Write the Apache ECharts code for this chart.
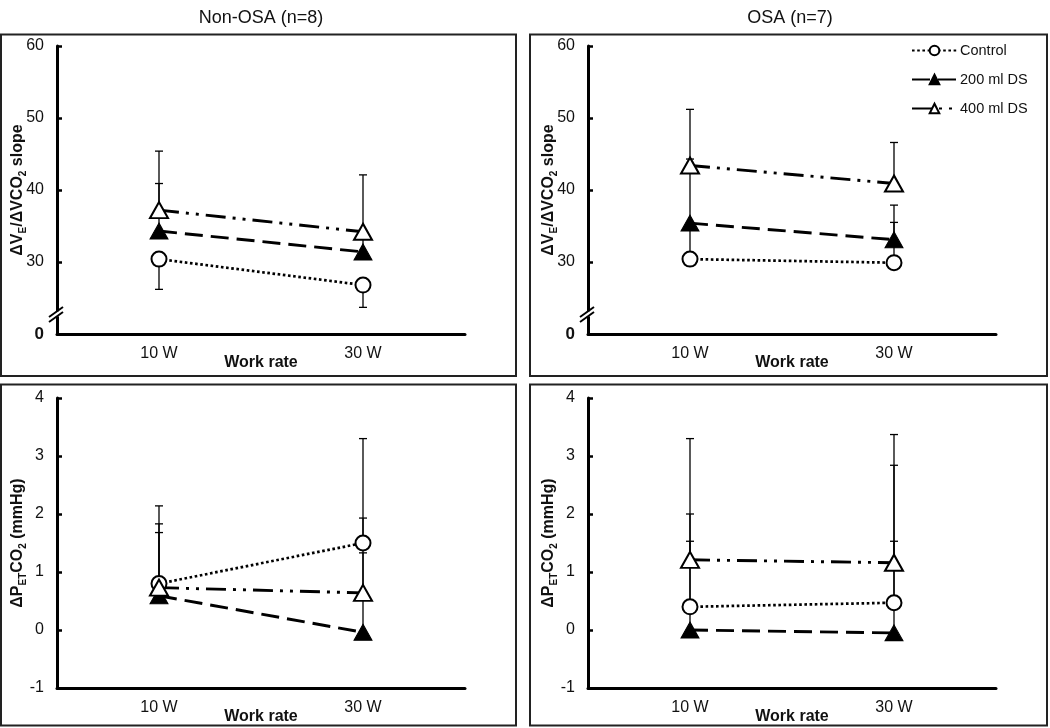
<!DOCTYPE html>
<html>
<head>
<meta charset="utf-8">
<script src="https://cdn.jsdelivr.net/npm/echarts@6/dist/echarts.min.js"></script>
<style>
html,body{margin:0;padding:0;background:#fff;}
#chart{width:1050px;height:728px;}
</style>
</head>
<body>
<div id="chart"></div>
<script>
// ---------- data ----------
const categories = ['10 W', '30 W'];
const seriesNames = ['Control', '200 ml DS', '400 ml DS'];
const panelTitles = ['Non-OSA (n=8)', 'OSA (n=7)'];

// Top row: ΔVE/ΔVCO2 slope (mean) and SD (negative = whisker drawn downward)
const nonOsaSlopeControl = [30.4, 26.8];
const nonOsaSlopeDs200   = [34.3, 31.4];
const nonOsaSlopeDs400   = [37.2, 34.2];
const nonOsaSlopeControlSd = [-4.2, -3.1];
const nonOsaSlopeDs200Sd   = [6.6, 3.0];
const nonOsaSlopeDs400Sd   = [8.2, 7.9];

const osaSlopeControl = [30.4, 29.9];
const osaSlopeDs200   = [35.4, 33.1];
const osaSlopeDs400   = [43.4, 40.9];
const osaSlopeControlSd = [5.0, 5.6];
const osaSlopeDs200Sd   = [8.9, 4.8];
const osaSlopeDs400Sd   = [7.8, 5.7];

// Bottom row: ΔPETCO2 (mmHg)
const nonOsaPetControl = [0.80, 1.50];
const nonOsaPetDs200   = [0.59, -0.04];
const nonOsaPetDs400   = [0.73, 0.64];
const nonOsaPetControlSd = [1.03, 0.43];
const nonOsaPetDs200Sd   = [1.09, 1.37];
const nonOsaPetDs400Sd   = [1.41, 2.66];

const osaPetControl = [0.40, 0.47];
const osaPetDs200   = [0.00, -0.05];
const osaPetDs400   = [1.21, 1.16];
const osaPetControlSd = [1.60, 2.37];
const osaPetDs200Sd   = [1.53, 1.58];
const osaPetDs400Sd   = [2.09, 2.21];

// axis ranges / tick labels
const slopeAxis = {min: 20, max: 60, interval: 10};   // lowest tick shown as broken-axis "0"
const slopeBrokenLabel = '0';
const petAxis = {min: -1, max: 4, interval: 1};

// ---------- chart ----------
const FONT = "'Liberation Sans', Arial, Helvetica, sans-serif";
const TXT = '#111';

const panels = [
  {means: [nonOsaSlopeControl, nonOsaSlopeDs200, nonOsaSlopeDs400], sds: [nonOsaSlopeControlSd, nonOsaSlopeDs200Sd, nonOsaSlopeDs400Sd], kind: 'slope'},
  {means: [osaSlopeControl, osaSlopeDs200, osaSlopeDs400], sds: [osaSlopeControlSd, osaSlopeDs200Sd, osaSlopeDs400Sd], kind: 'slope'},
  {means: [nonOsaPetControl, nonOsaPetDs200, nonOsaPetDs400], sds: [nonOsaPetControlSd, nonOsaPetDs200Sd, nonOsaPetDs400Sd], kind: 'pet'},
  {means: [osaPetControl, osaPetDs200, osaPetDs400], sds: [osaPetControlSd, osaPetDs200Sd, osaPetDs400Sd], kind: 'pet'}
];

const grids = [
  {left: 57, top: 46, width: 408, height: 288, outerBoundsMode: 'none'},
  {left: 588, top: 46, width: 408, height: 288, outerBoundsMode: 'none'},
  {left: 57, top: 398, width: 408, height: 290, outerBoundsMode: 'none'},
  {left: 588, top: 398, width: 408, height: 290, outerBoundsMode: 'none'}
];

const styles = [
  {symbol: 'circle', symbolSize: 15, item: {color: '#fff', borderColor: '#000', borderWidth: 2}, line: {color: '#000', width: 2.7, type: [2.6, 2.6]}},
  {symbol: 'triangle', symbolSize: [18, 16], item: {color: '#000', borderColor: '#000', borderWidth: 1}, line: {color: '#000', width: 2.9, type: [18, 8]}},
  {symbol: 'triangle', symbolSize: [18, 16], item: {color: '#fff', borderColor: '#000', borderWidth: 2}, line: {color: '#000', width: 2.9, type: [20, 7, 3, 7, 3, 7]}}
];

const axisLine = {show: true, onZero: false, lineStyle: {color: '#000', width: 3}};

const xAxes = grids.map((g, i) => ({
  type: 'category', gridIndex: i, data: categories, boundaryGap: true,
  axisLine: axisLine, axisTick: {show: false},
  axisLabel: {fontFamily: FONT, fontSize: 16, color: TXT, margin: 12},
  name: 'Work rate', nameLocation: 'middle', nameGap: 21, nameMoveOverlap: false,
  nameTextStyle: {fontFamily: FONT, fontSize: 16, fontWeight: 'bold', color: TXT, verticalAlign: 'top'}
}));

const slopeName = '{m|ΔV}{s|E}{m|/ΔVCO}{s|2}{m| slope}';
const petName = '{m|ΔP}{s|ET}{m|CO}{s|2}{m| (mmHg)}';
const nameRich = {
  m: {fontFamily: FONT, fontSize: 16, fontWeight: 'bold', color: TXT, lineHeight: 20, verticalAlign: 'middle'},
  s: {fontFamily: FONT, fontSize: 10, fontWeight: 'bold', color: TXT, lineHeight: 10, verticalAlign: 'bottom'}
};

const yAxes = panels.map((p, i) => {
  const ax = p.kind === 'slope' ? slopeAxis : petAxis;
  return {
    type: 'value', gridIndex: i, min: ax.min, max: ax.max, interval: ax.interval,
    axisLine: axisLine,
    axisTick: {show: true, inside: true, length: 5, lineStyle: {color: '#000', width: 2.5}},
    splitLine: {show: false},
    axisLabel: {
      fontFamily: FONT, fontSize: 16, color: TXT, margin: 13,
      formatter: p.kind === 'slope'
        ? (v) => (v === slopeAxis.min ? '{z|' + slopeBrokenLabel + '}' : String(v))
        : (v) => String(v),
      rich: {z: {fontFamily: FONT, fontSize: 17, fontWeight: 'bold', color: TXT}}
    },
    name: p.kind === 'slope' ? slopeName : petName,
    nameLocation: 'middle', nameRotate: 90, nameGap: 29, nameMoveOverlap: false,
    nameTextStyle: {rich: nameRich}
  };
});

function errorRender(params, api) {
  const x = api.value(0);
  const m = api.coord([x, api.value(1)]);
  const e = api.coord([x, api.value(2)]);
  const st = {stroke: '#000', lineWidth: 1.3};
  return {type: 'group', children: [
    {type: 'line', shape: {x1: m[0], y1: m[1], x2: e[0], y2: e[1]}, style: st},
    {type: 'line', shape: {x1: e[0] - 4, y1: e[1], x2: e[0] + 4, y2: e[1]}, style: st}
  ]};
}

const series = [];
panels.forEach((p, gi) => {
  p.means.forEach((vals, si) => {
    const sd = p.sds[si];
    series.push({
      type: 'custom', xAxisIndex: gi, yAxisIndex: gi, z: 1, silent: true,
      renderItem: errorRender,
      encode: {x: 0, y: [1, 2]},
      data: vals.map((v, k) => [k, v, v + sd[k]])
    });
  });
});
panels.forEach((p, gi) => {
  p.means.forEach((vals, si) => {
    const s = styles[si];
    series.push({
      type: 'line', name: seriesNames[si], xAxisIndex: gi, yAxisIndex: gi, z: 3,
      data: vals, symbol: s.symbol, symbolSize: s.symbolSize,
      itemStyle: s.item, lineStyle: s.line, showSymbol: true, animation: false
    });
  });
});

const option = {
  backgroundColor: '#fff',
  animation: false,
  grid: grids,
  xAxis: xAxes,
  yAxis: yAxes,
  legend: {
    data: seriesNames, orient: 'vertical', left: 911, top: 43, padding: 0,
    itemWidth: 45, itemHeight: 12, itemGap: 14, selectedMode: false,
    textStyle: {fontFamily: FONT, fontSize: 14.5, color: TXT, padding: [0, 0, 0, -2]}
  },
  series: series
};

const chart = echarts.init(document.getElementById('chart'), null, {renderer: 'canvas'});
chart.setOption(option);

// frames, titles and axis-break marks
const frames = [
  [1, 34.5, 515, 341.5], [530, 34.5, 517, 341.5],
  [1, 384.5, 515, 341], [530, 384.5, 517, 341]
];
const elements = [];
frames.forEach((f) => {
  elements.push({type: 'rect', shape: {x: f[0], y: f[1], width: f[2], height: f[3]}, style: {fill: null, stroke: '#222', lineWidth: 2}, silent: true});
});
[261, 790].forEach((cx, i) => {
  elements.push({type: 'text', x: cx, y: 18, style: {text: panelTitles[i], fontFamily: FONT, fontSize: 18, fill: TXT, align: 'center', verticalAlign: 'middle'}, silent: true});
});
[0, 1].forEach((gi) => {
  const p = chart.convertToPixel({gridIndex: gi}, [0, 22.8]);
  const ax = grids[gi].left;
  const yc = p[1];
  elements.push({type: 'rect', shape: {x: ax - 3, y: yc - 2.5, width: 6, height: 5}, style: {fill: '#fff'}, z: 10, silent: true});
  elements.push({type: 'line', shape: {x1: ax - 8, y1: yc - 2.5 + 5.7, x2: ax + 6, y2: yc - 2.5 - 4.3}, style: {stroke: '#000', lineWidth: 2}, z: 11, silent: true});
  elements.push({type: 'line', shape: {x1: ax - 8, y1: yc + 2.5 + 5.7, x2: ax + 6, y2: yc + 2.5 - 4.3}, style: {stroke: '#000', lineWidth: 2}, z: 11, silent: true});
});
chart.setOption({graphic: {elements: elements}});
</script>
</body>
</html>
